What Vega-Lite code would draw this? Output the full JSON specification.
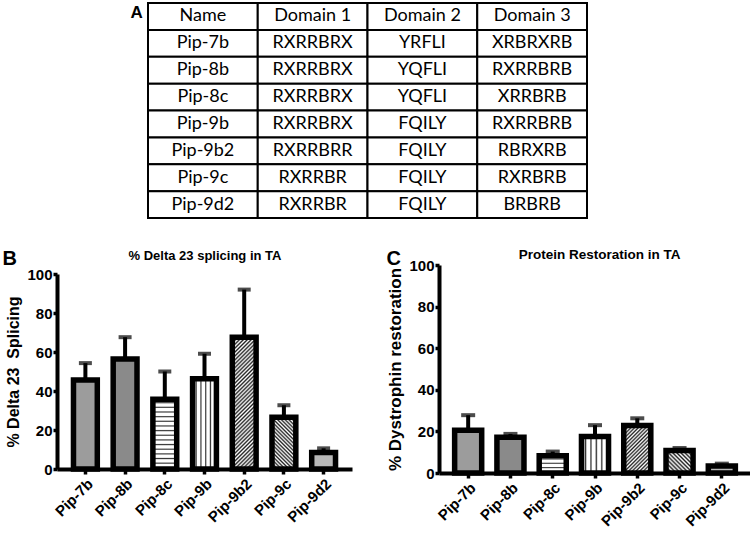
{
  "$schema": "https://vega.github.io/schema/vega-lite/v6.json",
  "background": "white",
  "padding": {"left": 2, "top": 2, "right": 0, "bottom": 0},
  "datasets": {
    "table": [
      {"Name": "Name", "Domain 1": "Domain 1", "Domain 2": "Domain 2", "Domain 3": "Domain 3"},
      {"Name": "Pip-7b", "Domain 1": "RXRRBRX", "Domain 2": "YRFLI", "Domain 3": "XRBRXRB"},
      {"Name": "Pip-8b", "Domain 1": "RXRRBRX", "Domain 2": "YQFLI", "Domain 3": "RXRRBRB"},
      {"Name": "Pip-8c", "Domain 1": "RXRRBRX", "Domain 2": "YQFLI", "Domain 3": "XRRBRB"},
      {"Name": "Pip-9b", "Domain 1": "RXRRBRX", "Domain 2": "FQILY", "Domain 3": "RXRRBRB"},
      {"Name": "Pip-9b2", "Domain 1": "RXRRBRR", "Domain 2": "FQILY", "Domain 3": "RBRXRB"},
      {"Name": "Pip-9c", "Domain 1": "RXRRBR", "Domain 2": "FQILY", "Domain 3": "RXRBRB"},
      {"Name": "Pip-9d2", "Domain 1": "RXRRBR", "Domain 2": "FQILY", "Domain 3": "BRBRB"}
    ],
    "splicing": [
      {"name": "Pip-7b", "value": 45.7, "upper": 54.3},
      {"name": "Pip-8b", "value": 56.4, "upper": 67.6},
      {"name": "Pip-8c", "value": 35.8, "upper": 50.0},
      {"name": "Pip-9b", "value": 46.3, "upper": 59.1},
      {"name": "Pip-9b2", "value": 67.6, "upper": 92.0},
      {"name": "Pip-9c", "value": 26.6, "upper": 32.7},
      {"name": "Pip-9d2", "value": 8.5, "upper": 10.6}
    ],
    "protein": [
      {"name": "Pip-7b", "value": 20.5, "upper": 27.8},
      {"name": "Pip-8b", "value": 17.2, "upper": 18.8},
      {"name": "Pip-8c", "value": 8.3, "upper": 10.3},
      {"name": "Pip-9b", "value": 17.5, "upper": 23.0},
      {"name": "Pip-9b2", "value": 22.8, "upper": 26.3},
      {"name": "Pip-9c", "value": 10.8, "upper": 12.0},
      {"name": "Pip-9d2", "value": 3.4, "upper": 4.5}
    ]
  },
  "spacing": 28,
  "vconcat": [
    {
      "data": {"name": "table"},
      "transform": [{"fold": ["Name", "Domain 1", "Domain 2", "Domain 3"], "as": ["col", "text"]}],
      "width": 530,
      "height": 215,
      "encoding": {
        "x": {"field": "col", "type": "nominal", "sort": ["Name", "Domain 1", "Domain 2", "Domain 3"], "scale": {"paddingInner": 0, "paddingOuter": 0, "range": [91, 530]}, "axis": null},
        "y": {"field": "Name", "type": "nominal", "sort": ["Name", "Pip-7b", "Pip-8b", "Pip-8c", "Pip-9b", "Pip-9b2", "Pip-9c", "Pip-9d2"], "scale": {"paddingInner": 0, "paddingOuter": 0},
          "axis": {"labels": false, "ticks": false, "domain": false, "title": "A", "titleAngle": 0, "titleX": 73, "titleY": 14, "titleAlign": "left", "titleBaseline": "alphabetic", "titleFontSize": 17, "titleFont": "Liberation Sans", "titleFontWeight": "bold", "minExtent": 0}}
      },
      "layer": [
        {"mark": {"type": "rect", "fill": "white", "stroke": "black", "strokeWidth": 2}},
        {"mark": {"type": "text", "font": "Lato", "fontSize": 18, "color": "black"},
          "encoding": {"text": {"field": "text"}, "fontWeight": {"condition": {"test": "datum.Name === 'Name'", "value": "bold"}, "value": "normal"}}}
      ]
    },
    {
      "hconcat": [
        {
          "data": {"name": "splicing"},
          "width": 295,
          "height": 195,
          "resolve": {"axis": {"x": "independent"}},
          "layer": [
            {"mark": {"type": "rule", "strokeWidth": 4, "color": "black"},
              "encoding": {
                "x": {"field": "name", "type": "nominal", "sort": null,
                  "axis": {"orient": "top", "labels": false, "ticks": false, "domain": false, "title": "B", "titleX": -55, "titleY": -10, "titleAngle": 0, "titleAlign": "left", "titleBaseline": "alphabetic", "titleFontSize": 20}},
                "y": {"field": "value", "type": "quantitative", "title": "% Delta 23\u00a0 Splicing", "scale": {"domain": [0, 100]},
                  "axis": {"values": [0, 20, 40, 60, 80, 100], "labelOverlap": false, "tickSize": 4, "labelPadding": 1, "titleFontSize": 16, "titlePadding": 5}},
                "y2": {"field": "upper"}}},
            {"mark": {"type": "tick", "thickness": 4, "size": 13, "color": "black"},
              "encoding": {
                "x": {"field": "name", "type": "nominal", "sort": null,
                  "axis": {"orient": "top", "labels": false, "ticks": false, "domain": false, "title": "% Delta 23 splicing in TA", "titleX": 147.5, "titleY": -15, "titleAngle": 0, "titleAlign": "center", "titleBaseline": "alphabetic", "titleFontSize": 13}},
                "y": {"field": "upper", "type": "quantitative", "title": "% Delta 23\u00a0 Splicing", "scale": {"domain": [0, 100]},
                  "axis": {"values": [0, 20, 40, 60, 80, 100], "labelOverlap": false, "tickSize": 4, "labelPadding": 1, "titleFontSize": 16, "titlePadding": 5}}}},
            {"mark": {"type": "bar", "stroke": "black", "strokeWidth": 5.5},
              "encoding": {
                "x": {"field": "name", "type": "nominal", "sort": null, "scale": {"paddingInner": 0.4, "paddingOuter": 0.415},
                  "axis": {"title": null, "labelAngle": -45, "labelPadding": 2}},
                "y": {"field": "value", "type": "quantitative", "title": "% Delta 23\u00a0 Splicing", "scale": {"domain": [0, 100]},
                  "axis": {"values": [0, 20, 40, 60, 80, 100], "labelOverlap": false, "tickSize": 4, "labelPadding": 1, "titleFontSize": 16, "titlePadding": 5}},
                "fill": {
                  "condition": [
                    {"test": "datum.name === 'Pip-8c'", "value": {"gradient": "linear", "x1": 0, "y1": 0, "x2": 0, "y2": 1, "stops": [
                      {"offset": 0, "color": "#fff"}, {"offset": 0.0333, "color": "#fff"}, {"offset": 0.05, "color": "#333"},
                      {"offset": 0.0667, "color": "#fff"}, {"offset": 0.1, "color": "#fff"}, {"offset": 0.1167, "color": "#333"},
                      {"offset": 0.1333, "color": "#fff"}, {"offset": 0.1667, "color": "#fff"}, {"offset": 0.1833, "color": "#333"},
                      {"offset": 0.2, "color": "#fff"}, {"offset": 0.2333, "color": "#fff"}, {"offset": 0.25, "color": "#333"},
                      {"offset": 0.2667, "color": "#fff"}, {"offset": 0.3, "color": "#fff"}, {"offset": 0.3167, "color": "#333"},
                      {"offset": 0.3333, "color": "#fff"}, {"offset": 0.3667, "color": "#fff"}, {"offset": 0.3833, "color": "#333"},
                      {"offset": 0.4, "color": "#fff"}, {"offset": 0.4333, "color": "#fff"}, {"offset": 0.45, "color": "#333"},
                      {"offset": 0.4667, "color": "#fff"}, {"offset": 0.5, "color": "#fff"}, {"offset": 0.5167, "color": "#333"},
                      {"offset": 0.5333, "color": "#fff"}, {"offset": 0.5667, "color": "#fff"}, {"offset": 0.5833, "color": "#333"},
                      {"offset": 0.6, "color": "#fff"}, {"offset": 0.6333, "color": "#fff"}, {"offset": 0.65, "color": "#333"},
                      {"offset": 0.6667, "color": "#fff"}, {"offset": 0.7, "color": "#fff"}, {"offset": 0.7167, "color": "#333"},
                      {"offset": 0.7333, "color": "#fff"}, {"offset": 0.7667, "color": "#fff"}, {"offset": 0.7833, "color": "#333"},
                      {"offset": 0.8, "color": "#fff"}, {"offset": 0.8333, "color": "#fff"}, {"offset": 0.85, "color": "#333"},
                      {"offset": 0.8667, "color": "#fff"}, {"offset": 0.9, "color": "#fff"}, {"offset": 0.9167, "color": "#333"},
                      {"offset": 0.9333, "color": "#fff"}, {"offset": 0.9667, "color": "#fff"}, {"offset": 0.9833, "color": "#333"},
                      {"offset": 1, "color": "#fff"}]}},
                    {"test": "datum.name === 'Pip-9b'", "value": {"gradient": "linear", "x1": 0, "y1": 0, "x2": 1, "y2": 0, "stops": [
                      {"offset": 0, "color": "#fff"}, {"offset": 0.1, "color": "#fff"}, {"offset": 0.15, "color": "#333"},
                      {"offset": 0.2, "color": "#fff"}, {"offset": 0.3, "color": "#fff"}, {"offset": 0.35, "color": "#333"},
                      {"offset": 0.4, "color": "#fff"}, {"offset": 0.5, "color": "#fff"}, {"offset": 0.55, "color": "#333"},
                      {"offset": 0.6, "color": "#fff"}, {"offset": 0.7, "color": "#fff"}, {"offset": 0.75, "color": "#333"},
                      {"offset": 0.8, "color": "#fff"}, {"offset": 0.9, "color": "#fff"}, {"offset": 0.95, "color": "#333"},
                      {"offset": 1, "color": "#fff"}]}},
                    {"test": "datum.name === 'Pip-9b2'", "value": {"gradient": "linear", "x1": 0, "y1": 0, "x2": 0.2065, "y2": 1.1433, "stops": [
                      {"offset": 0, "color": "#fff"}, {"offset": 0.0125, "color": "#222"}, {"offset": 0.025, "color": "#fff"}, {"offset": 0.0375, "color": "#222"},
                      {"offset": 0.05, "color": "#fff"}, {"offset": 0.0625, "color": "#222"}, {"offset": 0.075, "color": "#fff"}, {"offset": 0.0875, "color": "#222"},
                      {"offset": 0.1, "color": "#fff"}, {"offset": 0.1125, "color": "#222"}, {"offset": 0.125, "color": "#fff"}, {"offset": 0.1375, "color": "#222"},
                      {"offset": 0.15, "color": "#fff"}, {"offset": 0.1625, "color": "#222"}, {"offset": 0.175, "color": "#fff"}, {"offset": 0.1875, "color": "#222"},
                      {"offset": 0.2, "color": "#fff"}, {"offset": 0.2125, "color": "#222"}, {"offset": 0.225, "color": "#fff"}, {"offset": 0.2375, "color": "#222"},
                      {"offset": 0.25, "color": "#fff"}, {"offset": 0.2625, "color": "#222"}, {"offset": 0.275, "color": "#fff"}, {"offset": 0.2875, "color": "#222"},
                      {"offset": 0.3, "color": "#fff"}, {"offset": 0.3125, "color": "#222"}, {"offset": 0.325, "color": "#fff"}, {"offset": 0.3375, "color": "#222"},
                      {"offset": 0.35, "color": "#fff"}, {"offset": 0.3625, "color": "#222"}, {"offset": 0.375, "color": "#fff"}, {"offset": 0.3875, "color": "#222"},
                      {"offset": 0.4, "color": "#fff"}, {"offset": 0.4125, "color": "#222"}, {"offset": 0.425, "color": "#fff"}, {"offset": 0.4375, "color": "#222"},
                      {"offset": 0.45, "color": "#fff"}, {"offset": 0.4625, "color": "#222"}, {"offset": 0.475, "color": "#fff"}, {"offset": 0.4875, "color": "#222"},
                      {"offset": 0.5, "color": "#fff"}, {"offset": 0.5125, "color": "#222"}, {"offset": 0.525, "color": "#fff"}, {"offset": 0.5375, "color": "#222"},
                      {"offset": 0.55, "color": "#fff"}, {"offset": 0.5625, "color": "#222"}, {"offset": 0.575, "color": "#fff"}, {"offset": 0.5875, "color": "#222"},
                      {"offset": 0.6, "color": "#fff"}, {"offset": 0.6125, "color": "#222"}, {"offset": 0.625, "color": "#fff"}, {"offset": 0.6375, "color": "#222"},
                      {"offset": 0.65, "color": "#fff"}, {"offset": 0.6625, "color": "#222"}, {"offset": 0.675, "color": "#fff"}, {"offset": 0.6875, "color": "#222"},
                      {"offset": 0.7, "color": "#fff"}, {"offset": 0.7125, "color": "#222"}, {"offset": 0.725, "color": "#fff"}, {"offset": 0.7375, "color": "#222"},
                      {"offset": 0.75, "color": "#fff"}, {"offset": 0.7625, "color": "#222"}, {"offset": 0.775, "color": "#fff"}, {"offset": 0.7875, "color": "#222"},
                      {"offset": 0.8, "color": "#fff"}, {"offset": 0.8125, "color": "#222"}, {"offset": 0.825, "color": "#fff"}, {"offset": 0.8375, "color": "#222"},
                      {"offset": 0.85, "color": "#fff"}, {"offset": 0.8625, "color": "#222"}, {"offset": 0.875, "color": "#fff"}, {"offset": 0.8875, "color": "#222"},
                      {"offset": 0.9, "color": "#fff"}, {"offset": 0.9125, "color": "#222"}, {"offset": 0.925, "color": "#fff"}, {"offset": 0.9375, "color": "#222"},
                      {"offset": 0.95, "color": "#fff"}, {"offset": 0.9625, "color": "#222"}, {"offset": 0.975, "color": "#fff"}, {"offset": 0.9875, "color": "#222"},
                      {"offset": 1, "color": "#fff"}]}},
                    {"test": "datum.name === 'Pip-9c'", "value": {"gradient": "linear", "x1": 0, "y1": 1, "x2": 0.5527, "y2": -0.2052, "stops": [
                      {"offset": 0, "color": "#fff"}, {"offset": 0.025, "color": "#222"}, {"offset": 0.05, "color": "#fff"}, {"offset": 0.075, "color": "#222"},
                      {"offset": 0.1, "color": "#fff"}, {"offset": 0.125, "color": "#222"}, {"offset": 0.15, "color": "#fff"}, {"offset": 0.175, "color": "#222"},
                      {"offset": 0.2, "color": "#fff"}, {"offset": 0.225, "color": "#222"}, {"offset": 0.25, "color": "#fff"}, {"offset": 0.275, "color": "#222"},
                      {"offset": 0.3, "color": "#fff"}, {"offset": 0.325, "color": "#222"}, {"offset": 0.35, "color": "#fff"}, {"offset": 0.375, "color": "#222"},
                      {"offset": 0.4, "color": "#fff"}, {"offset": 0.425, "color": "#222"}, {"offset": 0.45, "color": "#fff"}, {"offset": 0.475, "color": "#222"},
                      {"offset": 0.5, "color": "#fff"}, {"offset": 0.525, "color": "#222"}, {"offset": 0.55, "color": "#fff"}, {"offset": 0.575, "color": "#222"},
                      {"offset": 0.6, "color": "#fff"}, {"offset": 0.625, "color": "#222"}, {"offset": 0.65, "color": "#fff"}, {"offset": 0.675, "color": "#222"},
                      {"offset": 0.7, "color": "#fff"}, {"offset": 0.725, "color": "#222"}, {"offset": 0.75, "color": "#fff"}, {"offset": 0.775, "color": "#222"},
                      {"offset": 0.8, "color": "#fff"}, {"offset": 0.825, "color": "#222"}, {"offset": 0.85, "color": "#fff"}, {"offset": 0.875, "color": "#222"},
                      {"offset": 0.9, "color": "#fff"}, {"offset": 0.925, "color": "#222"}, {"offset": 0.95, "color": "#fff"}, {"offset": 0.975, "color": "#222"},
                      {"offset": 1, "color": "#fff"}]}},
                    {"test": "datum.name === 'Pip-7b'", "value": "#9c9c9c"},
                    {"test": "datum.name === 'Pip-8b'", "value": "#8a8a8a"}
                  ],
                  "value": "#b8b8b8"
                }
              }}
          ]
        },
        {
          "data": {"name": "protein"},
          "width": 312,
          "height": 199,
          "resolve": {"axis": {"x": "independent"}},
          "layer": [
            {"mark": {"type": "rule", "strokeWidth": 4, "color": "black"},
              "encoding": {
                "x": {"field": "name", "type": "nominal", "sort": null,
                  "axis": {"orient": "top", "labels": false, "ticks": false, "domain": false, "title": "C", "titleX": -53, "titleY": -10, "titleAngle": 0, "titleAlign": "left", "titleBaseline": "alphabetic", "titleFontSize": 20}},
                "y": {"field": "value", "type": "quantitative", "title": "% Dystrophin restoration", "scale": {"domain": [0, 100], "range": [199, -9]},
                  "axis": {"values": [0, 20, 40, 60, 80, 100], "labelOverlap": false, "tickSize": 4, "labelPadding": 1, "titleFontSize": 17, "titlePadding": 4}},
                "y2": {"field": "upper"}}},
            {"mark": {"type": "tick", "thickness": 4, "size": 14, "color": "black"},
              "encoding": {
                "x": {"field": "name", "type": "nominal", "sort": null,
                  "axis": {"orient": "top", "labels": false, "ticks": false, "domain": false, "title": "Protein Restoration in TA", "titleX": 160, "titleY": -16, "titleAngle": 0, "titleAlign": "center", "titleBaseline": "alphabetic", "titleFontSize": 13.5}},
                "y": {"field": "upper", "type": "quantitative", "title": "% Dystrophin restoration", "scale": {"domain": [0, 100], "range": [199, -9]},
                  "axis": {"values": [0, 20, 40, 60, 80, 100], "labelOverlap": false, "tickSize": 4, "labelPadding": 1, "titleFontSize": 17, "titlePadding": 4}}}},
            {"mark": {"type": "bar", "stroke": "black", "strokeWidth": 5.5},
              "encoding": {
                "x": {"field": "name", "type": "nominal", "sort": null, "scale": {"paddingInner": 0.36, "paddingOuter": 0.37},
                  "axis": {"title": null, "labelAngle": -45, "labelPadding": 2}},
                "y": {"field": "value", "type": "quantitative", "title": "% Dystrophin restoration", "scale": {"domain": [0, 100], "range": [199, -9]},
                  "axis": {"values": [0, 20, 40, 60, 80, 100], "labelOverlap": false, "tickSize": 4, "labelPadding": 1, "titleFontSize": 17, "titlePadding": 4}},
                "fill": {
                  "condition": [
                    {"test": "datum.name === 'Pip-8c'", "value": {"gradient": "linear", "x1": 0, "y1": 0, "x2": 0, "y2": 1, "stops": [
                      {"offset": 0, "color": "#fff"}, {"offset": 0.125, "color": "#fff"}, {"offset": 0.1875, "color": "#333"},
                      {"offset": 0.25, "color": "#fff"}, {"offset": 0.375, "color": "#fff"}, {"offset": 0.4375, "color": "#333"},
                      {"offset": 0.5, "color": "#fff"}, {"offset": 0.625, "color": "#fff"}, {"offset": 0.6875, "color": "#333"},
                      {"offset": 0.75, "color": "#fff"}, {"offset": 0.875, "color": "#fff"}, {"offset": 0.9375, "color": "#333"},
                      {"offset": 1, "color": "#fff"}]}},
                    {"test": "datum.name === 'Pip-9b'", "value": {"gradient": "linear", "x1": 0, "y1": 0, "x2": 1, "y2": 0, "stops": [
                      {"offset": 0, "color": "#fff"}, {"offset": 0.1, "color": "#fff"}, {"offset": 0.15, "color": "#333"},
                      {"offset": 0.2, "color": "#fff"}, {"offset": 0.3, "color": "#fff"}, {"offset": 0.35, "color": "#333"},
                      {"offset": 0.4, "color": "#fff"}, {"offset": 0.5, "color": "#fff"}, {"offset": 0.55, "color": "#333"},
                      {"offset": 0.6, "color": "#fff"}, {"offset": 0.7, "color": "#fff"}, {"offset": 0.75, "color": "#333"},
                      {"offset": 0.8, "color": "#fff"}, {"offset": 0.9, "color": "#fff"}, {"offset": 0.95, "color": "#333"},
                      {"offset": 1, "color": "#fff"}]}},
                    {"test": "datum.name === 'Pip-9b2'", "value": {"gradient": "linear", "x1": 0, "y1": 0, "x2": 0.6768, "y2": 1.1855, "stops": [
                      {"offset": 0, "color": "#fff"}, {"offset": 0.025, "color": "#222"}, {"offset": 0.05, "color": "#fff"}, {"offset": 0.075, "color": "#222"},
                      {"offset": 0.1, "color": "#fff"}, {"offset": 0.125, "color": "#222"}, {"offset": 0.15, "color": "#fff"}, {"offset": 0.175, "color": "#222"},
                      {"offset": 0.2, "color": "#fff"}, {"offset": 0.225, "color": "#222"}, {"offset": 0.25, "color": "#fff"}, {"offset": 0.275, "color": "#222"},
                      {"offset": 0.3, "color": "#fff"}, {"offset": 0.325, "color": "#222"}, {"offset": 0.35, "color": "#fff"}, {"offset": 0.375, "color": "#222"},
                      {"offset": 0.4, "color": "#fff"}, {"offset": 0.425, "color": "#222"}, {"offset": 0.45, "color": "#fff"}, {"offset": 0.475, "color": "#222"},
                      {"offset": 0.5, "color": "#fff"}, {"offset": 0.525, "color": "#222"}, {"offset": 0.55, "color": "#fff"}, {"offset": 0.575, "color": "#222"},
                      {"offset": 0.6, "color": "#fff"}, {"offset": 0.625, "color": "#222"}, {"offset": 0.65, "color": "#fff"}, {"offset": 0.675, "color": "#222"},
                      {"offset": 0.7, "color": "#fff"}, {"offset": 0.725, "color": "#222"}, {"offset": 0.75, "color": "#fff"}, {"offset": 0.775, "color": "#222"},
                      {"offset": 0.8, "color": "#fff"}, {"offset": 0.825, "color": "#222"}, {"offset": 0.85, "color": "#fff"}, {"offset": 0.875, "color": "#222"},
                      {"offset": 0.9, "color": "#fff"}, {"offset": 0.925, "color": "#222"}, {"offset": 0.95, "color": "#fff"}, {"offset": 0.975, "color": "#222"},
                      {"offset": 1, "color": "#fff"}]}},
                    {"test": "datum.name === 'Pip-9c'", "value": {"gradient": "linear", "x1": 0, "y1": 1, "x2": 1.0833, "y2": 0.0993, "stops": [
                      {"offset": 0, "color": "#fff"}, {"offset": 0.0417, "color": "#222"}, {"offset": 0.0833, "color": "#fff"}, {"offset": 0.125, "color": "#222"},
                      {"offset": 0.1667, "color": "#fff"}, {"offset": 0.2083, "color": "#222"}, {"offset": 0.25, "color": "#fff"}, {"offset": 0.2917, "color": "#222"},
                      {"offset": 0.3333, "color": "#fff"}, {"offset": 0.375, "color": "#222"}, {"offset": 0.4167, "color": "#fff"}, {"offset": 0.4583, "color": "#222"},
                      {"offset": 0.5, "color": "#fff"}, {"offset": 0.5417, "color": "#222"}, {"offset": 0.5833, "color": "#fff"}, {"offset": 0.625, "color": "#222"},
                      {"offset": 0.6667, "color": "#fff"}, {"offset": 0.7083, "color": "#222"}, {"offset": 0.75, "color": "#fff"}, {"offset": 0.7917, "color": "#222"},
                      {"offset": 0.8333, "color": "#fff"}, {"offset": 0.875, "color": "#222"}, {"offset": 0.9167, "color": "#fff"}, {"offset": 0.9583, "color": "#222"},
                      {"offset": 1, "color": "#fff"}]}},
                    {"test": "datum.name === 'Pip-7b'", "value": "#9c9c9c"},
                    {"test": "datum.name === 'Pip-8b'", "value": "#8a8a8a"}
                  ],
                  "value": "#b8b8b8"
                }
              }}
          ]
        }
      ],
      "spacing": 34
    }
  ],
  "config": {
    "view": {"stroke": null},
    "font": "Liberation Sans",
    "axis": {"domainColor": "black", "domainWidth": 4, "tickColor": "black", "tickWidth": 3.5, "tickSize": 5, "labelFont": "Liberation Sans", "labelFontSize": 15, "labelFontWeight": "bold", "labelColor": "black", "labelOverlap": false, "labelBound": false, "titleFont": "Liberation Sans", "titleFontWeight": "bold", "titleColor": "black", "grid": false},
    "title": {"font": "Liberation Sans", "fontWeight": "bold", "color": "black"}
  }
}
